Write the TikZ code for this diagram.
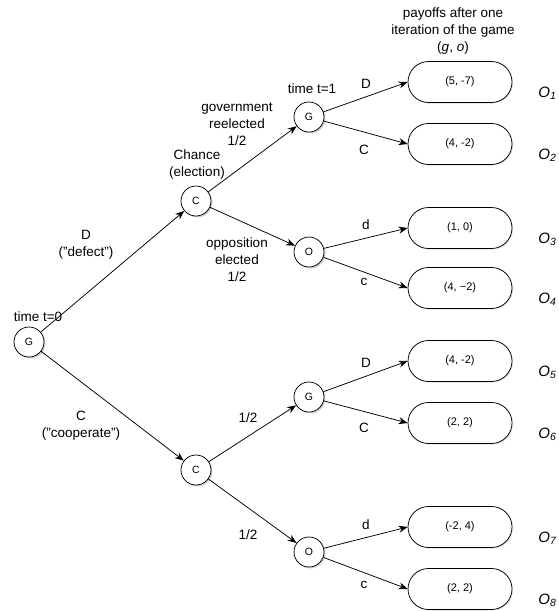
\documentclass[tikz,border=0pt]{standalone}
\usepackage{fontspec}
\setmainfont{Liberation Sans}
\usepackage{tikz}
\usetikzlibrary{arrows.meta,shapes.misc,shadows}

\begin{document}
\begin{tikzpicture}[x=1pt,y=-1pt,>={Stealth[length=9pt,width=7pt]},line width=0.75pt,
  every node/.style={align=center,font=\fontsize{13.5}{17}\selectfont},
  dnode/.style={circle,draw,fill=white,minimum size=30pt,inner sep=0pt,
    font=\fontsize{10.5}{12}\selectfont,
    drop shadow={opacity=0.35,shadow xshift=1.5pt,shadow yshift=-1.5pt}},
  payoff/.style={rounded rectangle,draw,fill=white,minimum width=104pt,
    minimum height=41pt,inner sep=0pt,font=\fontsize{11}{13}\selectfont,
    drop shadow={opacity=0.25,shadow xshift=1pt,shadow yshift=-1pt}},
  outcome/.style={anchor=base west,inner sep=0pt,font=\fontsize{15}{18}\selectfont\itshape}]
  \useasboundingbox (0,0) rectangle (558,611);

  \node[dnode] (g0) at (29,342)  {G};
  \node[dnode] (c1) at (196,201) {C};
  \node[dnode] (c2) at (196,470) {C};
  \node[dnode] (g1) at (309,117) {G};
  \node[dnode] (o1) at (309,252) {O};
  \node[dnode] (g2) at (309,397) {G};
  \node[dnode] (o2) at (309,552) {O};

  \node[payoff] (b1) at (460,82)  {(5, -7)};
  \node[payoff] (b2) at (460,144) {(4, -2)};
  \node[payoff] (b3) at (460,228) {(1, 0)};
  \node[payoff] (b4) at (460,288) {(4, −2)};
  \node[payoff] (b5) at (460,361) {(4, -2)};
  \node[payoff] (b6) at (460,423) {(2, 2)};
  \node[payoff] (b7) at (460,527) {(-2, 4)};
  \node[payoff] (b8) at (460,589) {(2, 2)};

  \foreach \i/\y in {1/82,2/144,3/228,4/288,5/361,6/423,7/527,8/589}
    \node[outcome] (out\i) at (538,\y+15) {O\textsubscript{\i}};

  \path[->] (g0) edge (c1)
                 edge (c2)
            (c1) edge (g1)
                 edge (o1)
            (c2) edge (g2)
                 edge (o2)
            (g1) edge (b1.west)
                 edge (b2.west)
            (o1) edge (b3.west)
                 edge (b4.west)
            (g2) edge (b5.west)
                 edge (b6.west)
            (o2) edge (b7.west)
                 edge (b8.west);

  \node (head)   at (453,31)  {payoffs after one\\iteration of the game\\(\textit{g}, \textit{o})};
  \node (time1)  at (312,89)  {time t=1};
  \node (time0)  at (38,317)  {time t=0};
  \node (govt)   at (237,124) {government\\reelected\\1/2};
  \node (chance) at (197,165) {Chance\\(election)};
  \node (oppo)   at (237,260) {opposition\\elected\\1/2};
  \node (defect) at (86,245)  {D\\("defect")};
  \node (coop)   at (81,426)  {C\\("cooperate")};
  \node (half1)  at (248,418) {1/2};
  \node (half2)  at (248,535) {1/2};

  \node (lD1) at (366,84)  {D};
  \node (lC1) at (364,150) {C};
  \node (ld1) at (366,225) {d};
  \node (lc1) at (364,282) {c};
  \node (lD2) at (366,363) {D};
  \node (lC2) at (364,428) {C};
  \node (ld2) at (366,525) {d};
  \node (lc2) at (364,585) {c};
\end{tikzpicture}
\end{document}
